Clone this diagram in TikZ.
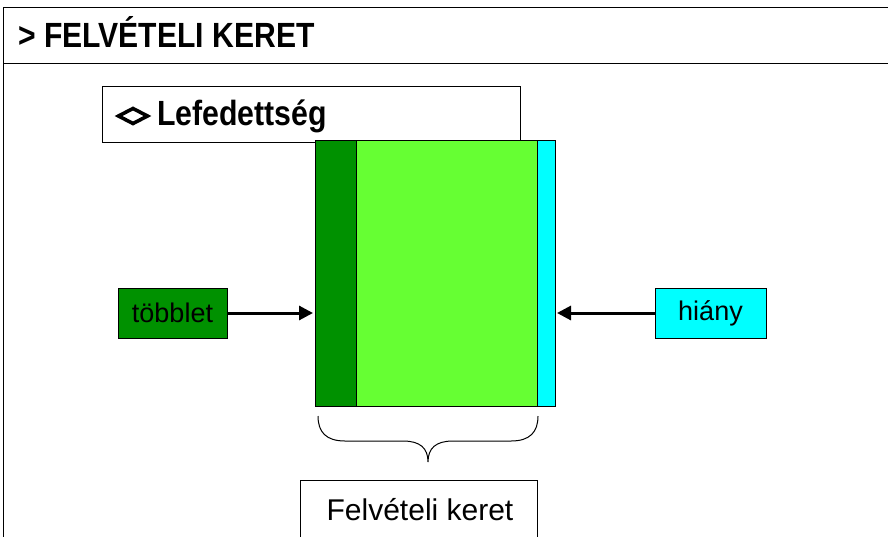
\documentclass[tikz,border=0pt]{standalone}
\usepackage{fontspec}
\setmainfont{Liberation Sans}
\usetikzlibrary{arrows.meta}
\definecolor{dgreen}{RGB}{0,145,0}
\definecolor{lgreen}{RGB}{102,255,51}
\definecolor{cyanc}{RGB}{0,255,255}
\tikzset{
  frameline/.style={draw=black, line width=1pt},
  labelbox/.style={draw=black, line width=1pt, minimum height=50pt, inner sep=0pt},
  conn/.style={line width=3pt, -{Triangle[length=14pt,width=14pt]}},
  bigtext/.style={inner sep=0pt, font=\fontsize{35}{35}\selectfont\bfseries},
}
\begin{document}
\begin{tikzpicture}[x=1pt,y=-1pt]
\useasboundingbox (0,0) rectangle (888,536);
\clip (0,0) rectangle (888,536);
\fill[white] (0,0) rectangle (888,536);
% outer frame
\draw[frameline] (3,7) rectangle (892,545);
\draw[frameline] (3,63) -- (892,63);
\node[bigtext, anchor=base west] (title) at (18,47) {\scalebox{0.86}[1]{> FELVÉTELI KERET}};
% Lefedettség box
\draw[frameline] (102,86) rectangle (520,142);
\draw[line width=3.6pt, line join=miter] (118.5,116) -- (133,108.5) -- (147.5,116) -- (133,123.5) -- cycle;
\node[bigtext, anchor=base west] (lef) at (157,125) {\scalebox{0.865}[1]{Lefedettség}};
% main rectangle
\draw[line width=1pt, fill=dgreen] (315,140) rectangle (356,406);
\draw[line width=1pt, fill=lgreen] (356,140) rectangle (537,406);
\draw[line width=1pt, fill=cyanc] (537,140) rectangle (555,406);
\coordinate (mainL) at (313,313);
\coordinate (mainR) at (557,313);
% side boxes
\node[labelbox, fill=dgreen, minimum width=109pt] (tobb) at (172.5,313) {\fontsize{27}{27}\selectfont többlet};
\node[labelbox, fill=cyanc, minimum width=111pt] (hiany) at (710.5,313) {\fontsize{27}{27}\selectfont hiány};
\draw[conn] (tobb.east) -- (mainL);
\draw[conn] (hiany.west) -- (mainR);
% brace
\coordinate (bl) at (318,416);
\coordinate (br) at (538,416);
\coordinate (bt) at (428,462);
\draw[line width=1pt] (bl) .. controls (318,432) and (326,441) .. (345,441)
  -- (403,441) .. controls (420,441) and (428,448) .. (bt)
  .. controls (428,448) and (436,441) .. (453,441)
  -- (511,441) .. controls (530,441) and (538,432) .. (br);
% bottom box
\draw[frameline] (300,480) rectangle (537,545);
\node[inner sep=0pt] (fk) at (420,510) {\fontsize{30}{30}\selectfont Felvételi keret};
\end{tikzpicture}
\end{document}
